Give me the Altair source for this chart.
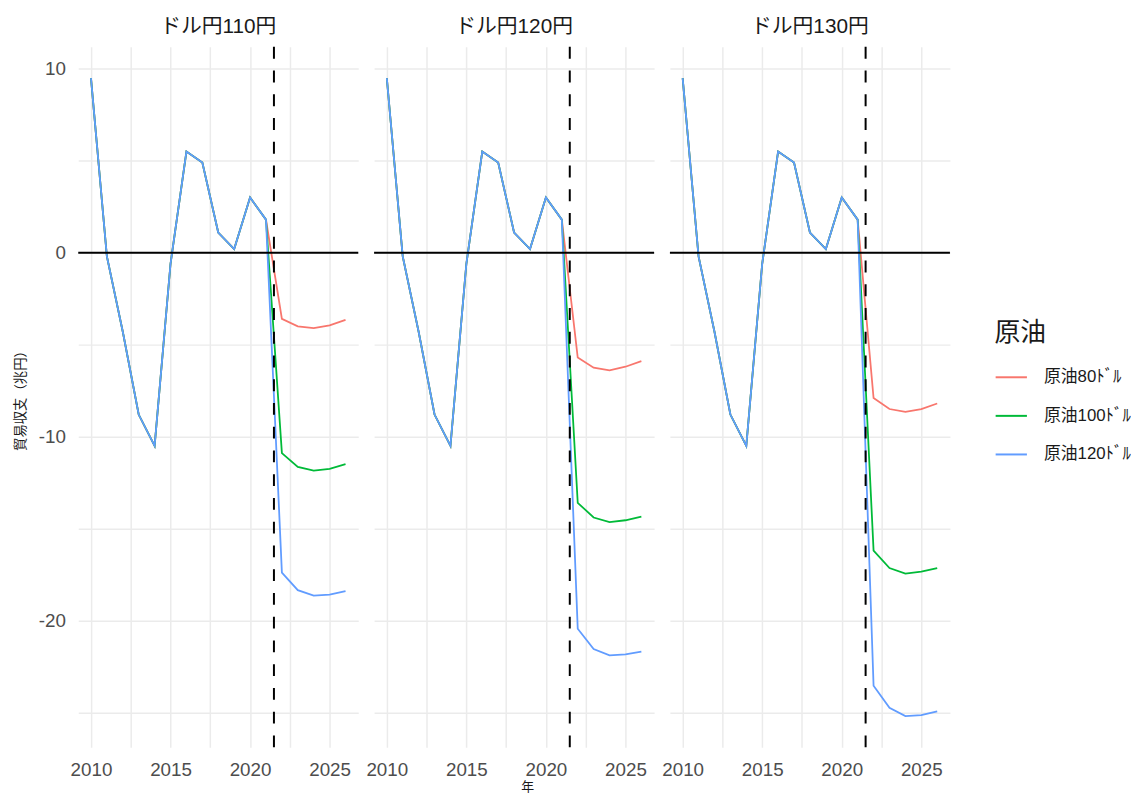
import altair as alt
import pandas as pd

years = list(range(2010, 2027))
hist = [9.5, -0.2, -4.3, -8.8, -10.5, -0.6, 5.5, 4.9, 1.1, 0.2, 3.0, 1.8]

panels = ["ドル円110円", "ドル円120円", "ドル円130円"]
oils = ["原油80ﾄﾞﾙ", "原油100ﾄﾞﾙ", "原油120ﾄﾞﾙ"]
colors = ["#F8766D", "#00BA38", "#619CFF"]

fc_110_80 = [-3.6, -4.0, -4.1, -3.95, -3.65]
fc_110_100 = [-10.9, -11.65, -11.85, -11.75, -11.5]
fc_110_120 = [-17.4, -18.35, -18.65, -18.6, -18.4]
fc_120_80 = [-5.7, -6.25, -6.4, -6.2, -5.9]
fc_120_100 = [-13.6, -14.4, -14.65, -14.55, -14.35]
fc_120_120 = [-20.45, -21.55, -21.9, -21.85, -21.7]
fc_130_80 = [-7.9, -8.5, -8.65, -8.5, -8.2]
fc_130_100 = [-16.2, -17.15, -17.45, -17.35, -17.15]
fc_130_120 = [-23.55, -24.75, -25.2, -25.15, -24.95]

forecasts = {
    panels[0]: [fc_110_80, fc_110_100, fc_110_120],
    panels[1]: [fc_120_80, fc_120_100, fc_120_120],
    panels[2]: [fc_130_80, fc_130_100, fc_130_120],
}

rows = []
for p in panels:
    for oi, o in enumerate(oils):
        vals = hist + forecasts[p][oi]
        for y, v in zip(years, vals):
            rows.append({"panel": p, "oil": o, "year": y, "value": v})
df = pd.DataFrame(rows)

FONT = "Liberation Sans, Noto Sans CJK JP"
x_vals = [2010 + 2.5 * i for i in range(7)]
y_vals = [-25, -20, -15, -10, -5, 0, 5, 10]

lines = alt.Chart().mark_line(strokeWidth=1.8).encode(
    x=alt.X("year:Q", title=None,
            scale=alt.Scale(domain=[2009.2, 2026.8], nice=False, zero=False),
            axis=alt.Axis(values=x_vals, labelExpr="datum.value % 5 == 0 ? '' + datum.value : ''",
                          ticks=False, domain=False, gridColor="#EBEBEB",
                          gridWidth=1.5, labelColor="#4D4D4D", labelFontSize=19,
                          labelPadding=12)),
    y=alt.Y("value:Q", title="貿易収支（兆円）",
            scale=alt.Scale(domain=[-26.9, 11.2], nice=False, zero=False),
            axis=alt.Axis(values=y_vals, labelExpr="datum.value % 10 == 0 ? '' + datum.value : ''",
                          ticks=False, domain=False, gridColor="#EBEBEB", gridWidth=1.5,
                          labelColor="#4D4D4D", labelFontSize=19, labelPadding=12,
                          titleFontSize=13.5, titleFontWeight="normal", titlePadding=11,
                          titleColor="#1A1A1A")),
    color=alt.Color("oil:N", sort=oils,
                    scale=alt.Scale(domain=oils, range=colors),
                    legend=alt.Legend(title="原油", titleFontSize=26, titleFontWeight="normal",
                                      titleColor="#1A1A1A", labelColor="#1A1A1A",
                                      labelFontSize=17, symbolType="stroke",
                                      symbolStrokeWidth=2, symbolSize=1000,
                                      rowPadding=14, titlePadding=15, labelOffset=16,
                                      orient="none", legendX=926, legendY=276)),
    detail="oil:N",
)

hrule = alt.Chart().mark_rule(color="black", strokeWidth=2).encode(
    y=alt.datum(0)
).transform_filter((alt.datum.year == 2010) & (alt.datum.oil == oils[0]))

vrule = alt.Chart().mark_rule(color="black", strokeWidth=2, strokeDash=[12, 12]).encode(
    x=alt.datum(2021.5)
).transform_filter((alt.datum.year == 2010) & (alt.datum.oil == oils[0]))

chart = alt.layer(lines, hrule, vrule, data=df).properties(
    width=283, height=708
).facet(
    column=alt.Column("panel:N", sort=panels,
                      header=alt.Header(title=None, labelFontSize=21, labelColor="#1A1A1A",
                                        labelPadding=9, labelFont=FONT)),
    spacing=14,
).properties(
    background="white",
    padding={"left": 5, "top": 4, "right": 0, "bottom": 0},
    title=alt.TitleParams("年", orient="bottom", anchor="middle", fontSize=13,
                          fontWeight="normal", color="#1A1A1A", offset=2, dx=-45),
).configure(font=FONT).configure_view(stroke="transparent", strokeWidth=0)

chart.save("out.html", embed_options={"renderer": "svg", "actions": False})
